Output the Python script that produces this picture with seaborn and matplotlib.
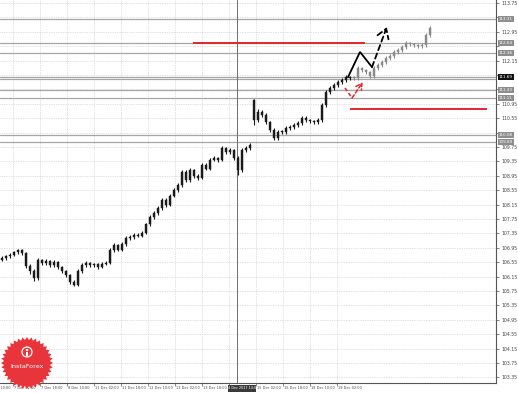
import numpy as np
import pandas as pd
import matplotlib
matplotlib.use("Agg")
import matplotlib.pyplot as plt
import matplotlib.transforms as mtransforms
from matplotlib.patches import Polygon, Rectangle, Circle
import seaborn as sns

# ---------------- data ----------------
opens = [106.62, 106.67, 106.72, 106.75, 106.82, 106.89, 106.80, 106.45, 106.30, 106.10,
         106.60, 106.52, 106.58, 106.47, 106.55, 106.42, 106.30, 106.19, 106.00, 105.92,
         106.30, 106.47, 106.52, 106.47, 106.50, 106.42, 106.50, 106.53, 106.89, 107.03,
         106.90, 107.05, 107.22, 107.25, 107.31, 107.28, 107.36, 107.60, 107.80, 107.92,
         108.06, 108.28, 108.14, 108.40, 108.56, 108.69, 109.06, 108.83, 109.11, 108.95,
         108.89, 109.25, 109.15, 109.40, 109.44, 109.39, 109.72, 109.61, 109.67, 109.45,
         109.10, 109.67, 109.72, 111.06, 110.50, 110.72, 110.64, 110.44, 110.22, 110.00,
         110.17, 110.17, 110.28, 110.31, 110.36, 110.42, 110.56, 110.50, 110.47, 110.44,
         110.50, 110.92, 111.28, 111.39, 111.47, 111.56, 111.61, 111.69,
         111.67, 111.67, 111.94, 111.89, 111.83, 111.72, 111.94, 112.03, 112.11, 112.22,
         112.28, 112.39, 112.44, 112.53, 112.64, 112.61, 112.58, 112.56, 112.58, 112.86]
closes = [106.67, 106.72, 106.75, 106.82, 106.89, 106.80, 106.45, 106.30, 106.10, 106.60,
          106.52, 106.58, 106.47, 106.55, 106.42, 106.30, 106.19, 106.00, 105.92, 106.30,
          106.47, 106.52, 106.47, 106.50, 106.42, 106.50, 106.53, 106.89, 107.03, 106.90,
          107.05, 107.22, 107.25, 107.31, 107.28, 107.36, 107.60, 107.80, 107.92, 108.06,
          108.28, 108.14, 108.40, 108.56, 108.69, 109.06, 108.83, 109.11, 108.95, 108.89,
          109.25, 109.15, 109.40, 109.44, 109.39, 109.72, 109.61, 109.67, 109.45, 109.10,
          109.67, 109.72, 109.81, 110.50, 110.72, 110.64, 110.44, 110.22, 110.00, 110.17,
          110.17, 110.28, 110.31, 110.36, 110.42, 110.56, 110.50, 110.47, 110.44, 110.50,
          110.92, 111.28, 111.39, 111.47, 111.56, 111.61, 111.69, 111.67,
          111.67, 111.94, 111.89, 111.83, 111.72, 111.94, 112.03, 112.11, 112.22, 112.28,
          112.39, 112.44, 112.53, 112.64, 112.61, 112.58, 112.56, 112.58, 112.86, 113.06]
highs = [106.72, 106.76, 106.80, 106.87, 106.93, 106.92, 106.83, 106.50, 106.35, 106.66,
         106.64, 106.63, 106.62, 106.60, 106.58, 106.45, 106.34, 106.22, 106.05, 106.35,
         106.52, 106.57, 106.56, 106.54, 106.54, 106.55, 106.58, 106.95, 107.08, 107.06,
         107.10, 107.27, 107.30, 107.36, 107.35, 107.41, 107.65, 107.85, 107.97, 108.12,
         108.34, 108.32, 108.45, 108.62, 108.75, 109.12, 109.10, 109.16, 109.15, 109.00,
         109.30, 109.30, 109.45, 109.50, 109.48, 109.78, 109.76, 109.72, 109.70, 109.50,
         109.72, 109.77, 109.85, 111.08, 110.80, 110.78, 110.70, 110.48, 110.27, 110.22,
         110.23, 110.33, 110.36, 110.41, 110.47, 110.61, 110.60, 110.54, 110.50, 110.55,
         110.97, 111.33, 111.44, 111.52, 111.61, 111.66, 111.74, 111.73,
         111.72, 111.99, 111.98, 111.92, 111.87, 111.99, 112.08, 112.16, 112.27, 112.33,
         112.44, 112.49, 112.58, 112.69, 112.68, 112.65, 112.62, 112.63, 112.91, 113.10]
lows = [106.57, 106.62, 106.68, 106.71, 106.78, 106.75, 106.40, 106.22, 106.02, 106.05,
        106.46, 106.48, 106.42, 106.43, 106.37, 106.25, 106.14, 105.95, 105.88, 105.88,
        106.26, 106.43, 106.42, 106.43, 106.37, 106.38, 106.46, 106.49, 106.84, 106.85,
        106.86, 107.00, 107.18, 107.20, 107.24, 107.24, 107.32, 107.55, 107.74, 107.86,
        108.01, 108.09, 108.10, 108.35, 108.51, 108.64, 108.78, 108.78, 108.90, 108.84,
        108.85, 109.10, 109.11, 109.35, 109.34, 109.35, 109.56, 109.56, 109.40, 108.97,
        109.05, 109.62, 109.68, 110.36, 110.45, 110.58, 110.39, 110.17, 109.94, 109.95,
        110.11, 110.12, 110.23, 110.26, 110.31, 110.37, 110.45, 110.42, 110.39, 110.39,
        110.45, 110.87, 111.23, 111.34, 111.42, 111.51, 111.56, 111.62,
        111.62, 111.62, 111.84, 111.78, 111.67, 111.67, 111.89, 111.98, 112.06, 112.17,
        112.23, 112.34, 112.39, 112.48, 112.56, 112.53, 112.51, 112.51, 112.53, 112.81]
n_history = 88   # black candles; the rest is the grey projected path

price_ticks = [113.75, 113.35, 112.95, 112.55, 112.15, 111.75, 111.35, 110.95, 110.55,
               110.15, 109.75, 109.35, 108.95, 108.55, 108.15, 107.75, 107.35, 106.95,
               106.55, 106.15, 105.75, 105.35, 104.95, 104.55, 104.15, 103.75, 103.35]
time_labels = ["6 Dec 10:00", "7 Dec 02:00", "7 Dec 18:00", "8 Dec 10:00", "11 Dec 02:00",
               "11 Dec 18:00", "12 Dec 10:00", "13 Dec 02:00", "13 Dec 18:00",
               "15 Dec 02:00", "15 Dec 18:00", "18 Dec 10:00", "19 Dec 02:00"]
time_label_pos = [-3.6, 2.75, 9.5, 16.25, 23.0, 29.75, 36.5, 43.25, 50.0,
                  63.5, 70.25, 77.0, 83.75]
crosshair_x = 58.75
crosshair_label = "14 Dec 2017 14:00"

level_prices = [113.31, 112.64, 112.36, 111.33, 111.11, 110.08, 109.89]
extra_level = 111.63
current_price = 111.69
resistance = (47.75, 90.75, 112.65)   # x start, x end, price
support = (87.0, 121.25, 110.81)

zigzag_x = [86.5, 89.5, 92.5]
zigzag_y = [111.69, 112.39, 111.97]
zigzag_target = (96.2, 113.08)
red_x = [85.75, 87.5]
red_y = [111.39, 111.11]
red_target = (90.2, 111.55)

df = pd.DataFrame({"open": opens, "high": highs, "low": lows, "close": closes})
df["idx"] = np.arange(len(df))
df["group"] = np.where(df["idx"] < n_history, "history", "projection")

# ---------------- figure ----------------
sns.set_theme(style="white")
plt.rcParams["font.family"] = ["DejaVu Sans"]

W, H = 518, 393
fig = plt.figure(figsize=(W / 100, H / 100), dpi=100)
fig.patch.set_facecolor("white")
ax = fig.add_axes([0, 10 / H, 496 / W, 383 / H])
ax.set_facecolor("white")

ax.set_xlim(-0.5, 123.5)
ax.set_ylim(103.194, 113.833)

# grid
ax.set_yticks(price_ticks)
ax.set_xticks(time_label_pos[1:9] + [56.75] + time_label_pos[9:])
ax.grid(True, color="#c4c4c4", linestyle=(0, (1, 1.5)), linewidth=0.5)
ax.set_axisbelow(True)

# level lines
for p in level_prices + [extra_level, current_price]:
    ax.axhline(p, color="#a6a6a6", linewidth=0.9, zorder=1)

# crosshair vertical line
ax.axvline(crosshair_x, color="#6e6e6e", linewidth=0.7, zorder=1)

# candles
colors = {"history": "#1a1a1a", "projection": "#8a8a8a"}
for grp, sub in df.groupby("group"):
    col = colors[grp]
    ax.vlines(sub["idx"], sub["low"], sub["high"], color=col, linewidth=0.8, zorder=3)
    body_lo = np.minimum(sub["open"], sub["close"])
    body_h = np.maximum((sub["close"] - sub["open"]).abs(), 0.015)
    ax.bar(sub["idx"], body_h, bottom=body_lo, width=0.42, color=col,
           edgecolor=col, linewidth=0.3, zorder=4)

# red support / resistance
ax.hlines(resistance[2], resistance[0], resistance[1], color="#e3262d", linewidth=1.4, zorder=5)
ax.hlines(support[2], support[0], support[1], color="#e3262d", linewidth=1.4, zorder=5)

# black zigzag + dashed arrow
ax.plot(zigzag_x, zigzag_y, color="black", linewidth=1.3, zorder=6, solid_joinstyle="miter")
ax.annotate("", xy=zigzag_target, xytext=(zigzag_x[-1], zigzag_y[-1]),
            arrowprops=dict(arrowstyle="->,head_length=0.55,head_width=0.35",
                            color="black", linewidth=1.3, linestyle=(0, (3, 2)),
                            shrinkA=0, shrinkB=0), zorder=6)
# red dashed arrow
ax.plot(red_x, red_y, color="#e3262d", linewidth=1.1, linestyle=(0, (2.5, 1.5)), zorder=6)
ax.annotate("", xy=red_target, xytext=(red_x[-1], red_y[-1]),
            arrowprops=dict(arrowstyle="->,head_length=0.35,head_width=0.2",
                            color="#e3262d", linewidth=1.1, linestyle=(0, (2.5, 1.5)),
                            shrinkA=0, shrinkB=0), zorder=6)

# axes cosmetics
for s in ["top", "left"]:
    ax.spines[s].set_visible(False)
for s in ["right", "bottom"]:
    ax.spines[s].set_color("#555555")
    ax.spines[s].set_linewidth(0.8)
ax.yaxis.tick_right()
# tick labels hidden under a level box are not shown (as on the reference)
boxed = level_prices + [current_price]
tick_text = [("" if min(abs(v - b) for b in boxed) < 0.13 else f"{v:.2f}") for v in price_ticks]
ax.set_yticklabels(tick_text, fontsize=3.3, color="#444444")
ax.tick_params(axis="y", which="both", right=True, length=2, width=0.5, pad=2,
               color="#555555")
ax.set_xticklabels([])
ax.tick_params(axis="x", which="both", bottom=True, length=2, width=0.5, color="#555555")

# time labels (left aligned, MT4 style)
xtr = ax.get_xaxis_transform()
for lab, pos in zip(time_labels, time_label_pos):
    ax.text(pos + 0.3, -0.013, lab, transform=xtr, ha="left", va="center",
            fontsize=2.5, color="#444444", clip_on=False)

# level label boxes
ytr = mtransforms.blended_transform_factory(ax.transAxes, ax.transData)
for p in level_prices:
    ax.text(1.006, p, f"{p:.2f}", transform=ytr, ha="left", va="center", fontsize=3.0,
            color="white", clip_on=False, zorder=10,
            bbox=dict(boxstyle="square,pad=0.2", fc="#8d8d8d", ec="none"))
ax.text(1.006, current_price, f"{current_price:.2f}", transform=ytr, ha="left",
        va="center", fontsize=3.0, color="white", clip_on=False, zorder=11,
        bbox=dict(boxstyle="square,pad=0.2", fc="#111111", ec="none"))

# overlay for logo and crosshair time box
ov = fig.add_axes([0, 0, 1, 1], zorder=5)
ov.set_xlim(0, W)
ov.set_ylim(H, 0)
ov.axis("off")
ov.patch.set_alpha(0)

ov.add_patch(Rectangle((227.5, 384.5), 28.5, 7.5, fc="#3a3a3a", ec="none"))
ov.text(241.7, 388.3, crosshair_label, ha="center", va="center", fontsize=2.4, color="white")

cx, cy = 27, 363
ang = np.linspace(0, 2 * np.pi, 72, endpoint=False)
rad = np.where(np.arange(72) % 2 == 0, 26, 23)
star = np.column_stack([cx + rad * np.cos(ang), cy + rad * np.sin(ang)])
ov.add_patch(Polygon(star, closed=True, fc="#e8343b", ec="none"))
ov.add_patch(Circle((cx, cy - 11), 5, fc="none", ec="white", lw=0.9))
ov.add_patch(Circle((cx, cy - 13), 1.2, fc="white", ec="none"))
ov.add_patch(Rectangle((cx - 1, cy - 11.5), 2, 4.5, fc="white", ec="none"))
ov.text(cx, cy + 3, "InstaForex", ha="center", va="center", fontsize=4.6, color="white")

fig.savefig("out.png", dpi=100, facecolor="white")
